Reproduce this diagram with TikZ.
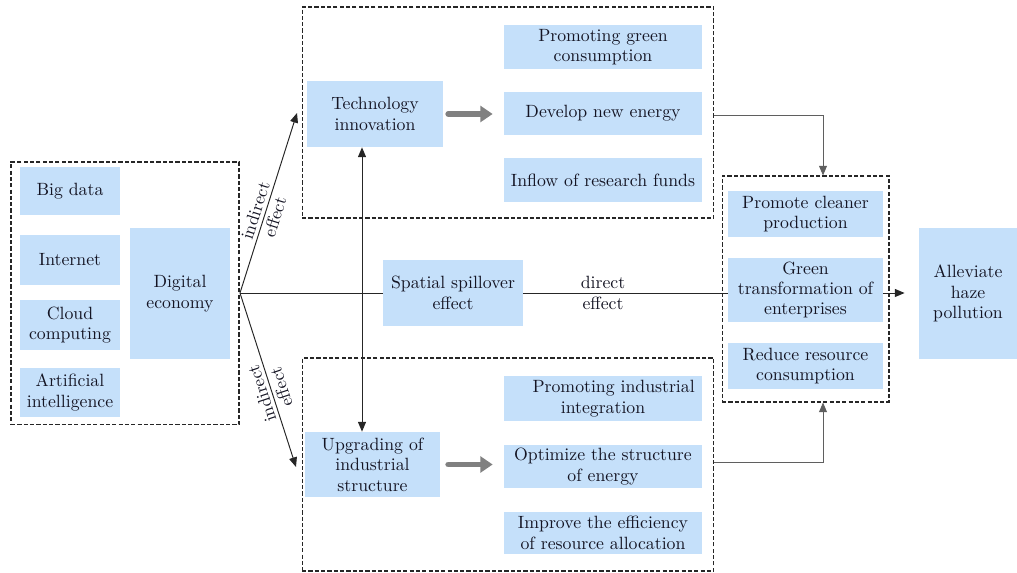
\documentclass[tikz,border=0pt]{standalone}
\usepackage{fontspec}
\usetikzlibrary{arrows.meta,backgrounds}
\definecolor{boxblue}{RGB}{197,224,250}
\definecolor{txt}{RGB}{20,20,35}
\definecolor{conngray}{RGB}{95,95,95}
\definecolor{fatgray}{RGB}{128,128,128}
\newcommand{\fsz}{\rmfamily\fontsize{10.1}{11.6}\selectfont}
\tikzset{
  box/.style={fill=boxblue, align=center, inner sep=1pt, font=\fsz, text=txt},
  dbox/.style={draw=black!85, line width=0.6pt, dash pattern=on 2.4pt off 1.2pt, inner sep=0pt},
  conn/.style={draw=black!85, line width=0.55pt},
  tip/.style={-{Triangle[length=5.5pt,width=4.5pt]}},
  dtip/.style={{Triangle[length=5.5pt,width=4.5pt]}-{Triangle[length=5.5pt,width=4.5pt]}},
  lab/.style={align=center, font=\fsz, text=txt, inner sep=0.5pt},
  fat/.style={draw=fatgray, line width=3.4pt, line cap=round, -{Triangle[length=7pt,width=9pt]}}
}
\begin{document}
\begin{tikzpicture}[x=0.02cm, y=-0.02cm]
\useasboundingbox (0,0) rectangle (1017,573);
% dashed group frames
\node[dbox, minimum width=4.56cm, minimum height=5.26cm] (leftbox) at (125,293.5) {};
\node[dbox, minimum width=8.24cm, minimum height=4.22cm] (topbox) at (508,112.5) {};
\node[dbox, minimum width=8.24cm, minimum height=4.26cm] (botbox) at (508,464.5) {};
\node[dbox, minimum width=3.34cm, minimum height=4.52cm] (rightbox) at (805.5,289) {};
% left group
\node[box, minimum width=2cm, minimum height=0.96cm] (bigdata) at (70,191) {Big data};
\node[box, minimum width=2cm, minimum height=1cm] (internet) at (70,260) {Internet};
\node[box, minimum width=2cm, minimum height=1cm] (cloud) at (70,325) {Cloud\\computing};
\node[box, minimum width=2cm, minimum height=0.98cm] (ai) at (70,392.5) {Artificial\\intelligence};
\node[box, minimum width=2cm, minimum height=2.62cm] (digital) at (180,293.5) {Digital\\economy};
% top group
\node[box, minimum width=2.72cm, minimum height=1.32cm] (tech) at (375,114) {Technology\\innovation};
\node[box, minimum width=3.96cm, minimum height=0.88cm] (greencons) at (603,47) {Promoting green\\consumption};
\node[box, minimum width=3.96cm, minimum height=0.86cm] (newenergy) at (603,113.5) {Develop new energy};
\node[box, minimum width=3.96cm, minimum height=0.88cm] (funds) at (603,180) {Inflow of research funds};
% bottom group
\node[box, minimum width=2.7cm, minimum height=1.3cm] (upg) at (372.5,464.5) {Upgrading of\\industrial\\structure};
\node[box, minimum width=3.96cm, minimum height=0.9cm] (integ) at (603,398.5) {\hspace*{1.2em}Promoting industrial\\integration};
\node[box, minimum width=3.96cm, minimum height=0.86cm] (optim) at (603,466.5) {Optimize the structure\\of energy};
\node[box, minimum width=3.96cm, minimum height=0.84cm] (effic) at (603,533) {Improve the efficiency\\of resource allocation};
% middle
\node[box, minimum width=2.8cm, minimum height=1.32cm] (spill) at (453,293) {Spatial spillover\\effect};
% right group
\node[box, minimum width=3.1cm, minimum height=0.92cm] (cleaner) at (805.5,214) {Promote cleaner\\production};
\node[box, minimum width=3.1cm, minimum height=1.3cm] (gtrans) at (805.5,290) {Green\\transformation of\\enterprises};
\node[box, minimum width=3.1cm, minimum height=0.92cm] (reduce) at (805.5,366) {Reduce resource\\consumption};
\node[box, minimum width=1.96cm, minimum height=2.62cm] (allev) at (968,293.5) {Alleviate\\haze\\pollution};
% coordinates
\coordinate (fork) at (240,293);
\coordinate (upend) at (297,113);
\coordinate (downend) at (296,467);
\coordinate (vx) at (362,0);
\coordinate (tc) at (823,115);
\coordinate (bc) at (823,462);
% connectors
\begin{scope}[on background layer]
\draw[conn] (fork) -- (spill.west);
\draw[conn] (spill.east) -- node[lab, pos=0.39]{direct\\effect} (spill -| gtrans.west);
\end{scope}
\draw[conn, dtip] (tech.south -| vx) -- (upg.north -| vx);
\draw[conn, tip] (fork) -- node[lab, rotate=72.4, pos=0.44]{indirect\\effect} (upend);
\draw[conn, tip] (fork) -- node[lab, rotate=108.2, pos=0.56]{indirect\\effect} (downend);
\draw[conn, tip, shorten >=8pt] (gtrans.east |- spill) -- (spill -| allev.west);
\draw[conn, draw=conngray, tip] (topbox.east |- tc) -- (tc) -- (tc |- rightbox.north);
\draw[conn, draw=conngray, tip] (botbox.east |- bc) -- (bc) -- (bc |- rightbox.south);
\draw[fat, shorten <=0.1cm, shorten >=0.22cm] (tech.east) -- (tech.east -| newenergy.west);
\draw[fat, shorten <=0.16cm, shorten >=0.22cm] (upg.east) -- (upg.east -| optim.west);
\end{tikzpicture}
\end{document}
